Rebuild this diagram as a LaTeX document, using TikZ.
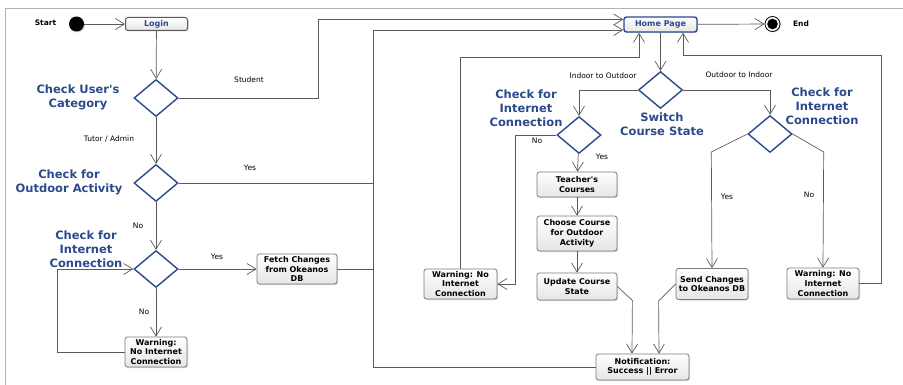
\documentclass[tikz,border=0pt]{standalone}
\usepackage{fontspec}
\setmainfont{DejaVu Sans}[Ligatures=TeXOff]
\usetikzlibrary{arrows.meta,shapes.geometric,shadows}
\definecolor{dblue}{HTML}{2A4A8C}
\definecolor{linec}{HTML}{5A5A5A}
\definecolor{boxc}{HTML}{7A7A7A}
\definecolor{framec}{HTML}{B4B4B4}
\begin{document}
\begin{tikzpicture}[x=1pt,y=-1pt,
  arr/.style={draw=linec, line width=0.7pt, -{Straight Barb[length=9pt,width=11pt,line width=0.7pt]}},
  ln/.style={draw=linec, line width=0.7pt},
  abox/.style={rectangle, rounded corners=2.5pt, draw=boxc, line width=0.8pt,
    top color=white, bottom color=black!10,
    drop shadow={shadow xshift=1pt,shadow yshift=-1pt,opacity=0.3},
    font=\bfseries\fontsize{8}{9.8}\selectfont, align=center, inner sep=0pt},
  hbox/.style={abox, draw=dblue, line width=1.4pt, text=dblue},
  lbox/.style={abox, draw=linec, line width=1pt, text=dblue},
  dia/.style={diamond, draw=dblue, line width=1.4pt, fill=white,
    minimum width=44pt, minimum height=37pt, inner sep=0pt},
  dlab/.style={font=\bfseries\fontsize{11.5}{14}\selectfont, text=dblue, align=center, inner sep=0pt},
  slab/.style={font=\fontsize{7.5}{9}\selectfont, inner sep=0pt},
  tlab/.style={font=\bfseries\fontsize{7.5}{9}\selectfont, inner sep=0pt}
]
\useasboundingbox (0,0) rectangle (903,385);
\draw[framec, line width=0.8pt] (5,385) -- (5,8) -- (903,8);

% start / end
\node[circle, fill=black, minimum size=15pt, inner sep=0pt,
  drop shadow={shadow xshift=1pt,shadow yshift=-1pt,opacity=0.3}] (start) at (76.5,24) {};
\node[tlab] (startlab) at (45.5,23) {Start};
\node[circle, draw=black, line width=0.8pt, fill=white, minimum size=15pt, inner sep=0pt,
  drop shadow={shadow xshift=1pt,shadow yshift=-1pt,opacity=0.3}] (end) at (772.5,24) {};
\fill[black] (end.center) circle (5.3pt);
\node[tlab] (endlab) at (801,24) {End};

% boxes
\node[lbox, minimum width=62pt, minimum height=13pt] (login) at (156.5,24) {Login};
\node[hbox, minimum width=73pt, minimum height=15pt] (home) at (660.5,24.5) {Home Page};
\node[abox, minimum width=80pt, minimum height=30pt] (fetch) at (297,269) {Fetch Changes\\from Okeanos\\DB};
\node[abox, minimum width=62pt, minimum height=30pt] (warn1) at (156,352) {Warning:\\No Internet\\Connection};
\node[abox, minimum width=73pt, minimum height=30pt] (warn2) at (460.5,284) {Warning: No\\Internet\\Connection};
\node[abox, minimum width=80pt, minimum height=25pt] (teach) at (577,184.5) {Teacher's\\Courses};
\node[abox, minimum width=80pt, minimum height=35pt] (choose) at (577,233.5) {Choose Course\\for Outdoor\\Activity};
\node[abox, minimum width=80pt, minimum height=27pt] (update) at (577,286.5) {Update Course\\State};
\node[abox, minimum width=72pt, minimum height=31pt] (send) at (712,284) {Send Changes\\to Okeanos DB};
\node[abox, minimum width=72pt, minimum height=31pt] (warn3) at (823,283.5) {Warning: No\\Internet\\Connection};
\node[abox, minimum width=93pt, minimum height=26pt] (notif) at (642.5,367) {Notification:\\Success || Error};

% diamonds
\node[dia] (d1) at (156,98) {};
\node[dia] (d2) at (156,183) {};
\node[dia] (d3) at (156,269) {};
\node[dia] (sw) at (660.5,90) {};
\node[dia] (d4) at (579,135) {};
\node[dia] (d5) at (770,134) {};

% diamond labels
\node[dlab] (d1lab) at (78,97) {Check User's\\Category};
\node[dlab] (d2lab) at (69,182) {Check for\\Outdoor Activity};
\node[dlab] (d3lab) at (86,249) {Check for\\Internet\\Connection};
\node[dlab] (d4lab) at (526,108) {Check for\\Internet\\Connection};
\node[dlab] (swlab) at (662,124) {Switch\\Course State};
\node[dlab] (d5lab) at (822,106) {Check for\\Internet\\Connection};

% edge labels
\node[slab] (l1) at (249,80) {Student};
\node[slab] (l2) at (109,139) {Tutor / Admin};
\node[slab] (l3) at (250,168) {Yes};
\node[slab] (l4) at (138,226) {No};
\node[slab] (l5) at (217,257) {Yes};
\node[slab] (l6) at (144,312) {No};
\node[slab] (l7) at (603,76) {Indoor to Outdoor};
\node[slab] (l8) at (739,75) {Outdoor to Indoor};
\node[slab] (l9) at (537,141) {No};
\node[slab] (l10) at (602,157) {Yes};
\node[slab] (l11) at (727,197) {Yes};
\node[slab] (l12) at (809,195) {No};

% turning points
\coordinate (busT) at (373,30);
\coordinate (hL) at (639,57);
\coordinate (hR) at (683,55);

% connectors
\draw[arr] (start) -- (login);
\draw[arr] (login) -- (d1);
\draw[arr] (d1.east) -- ++(140,0) |- ([yshift=5pt]home.west);
\draw[arr] (d1) -- (d2);
\draw[ln] (d2.east) -- (d2.east -| busT);
\draw[arr] (notif.west) -| (busT) -- ([yshift=-5.5pt]home.west);
\draw[ln] (fetch.east) -- (fetch.east -| busT);
\draw[arr] (d2) -- (d3);
\draw[arr] (d3) -- (fetch);
\draw[arr] (d3) -- (warn1);
\draw[arr] (warn1.west) -- ++(-67,0) |- (d3.west);
\draw[arr] (home) -- (end);
\draw[arr] (home) -- (sw);
\draw[arr] (sw.west) -| (d4.north);
\draw[arr] (sw.east) -| (d5.north);
\draw[arr] (d4.west) -- ++(-41,0) |- (warn2.east);
\draw[arr] (warn2.north) |- (hL) -- (hL |- home.south);
\draw[arr] (d4) -- (teach);
\draw[arr] (teach) -- (choose);
\draw[arr] (choose) -- (update);
\draw[arr] (update.east) -- ++(15,14) -- ([xshift=-10.5pt]notif.north);
\draw[arr] (send.west) -- ++(-17,17) -- ([xshift=16.5pt]notif.north);
\draw[arr] (d5.west) -- ++(-36,18) -- (send.north);
\draw[arr] (d5.east) -- ++(31,18) -- (warn3.north);
\draw[arr] (warn3.east) -- ++(22,0) |- (hR) -- (hR |- home.south);
\end{tikzpicture}
\end{document}
